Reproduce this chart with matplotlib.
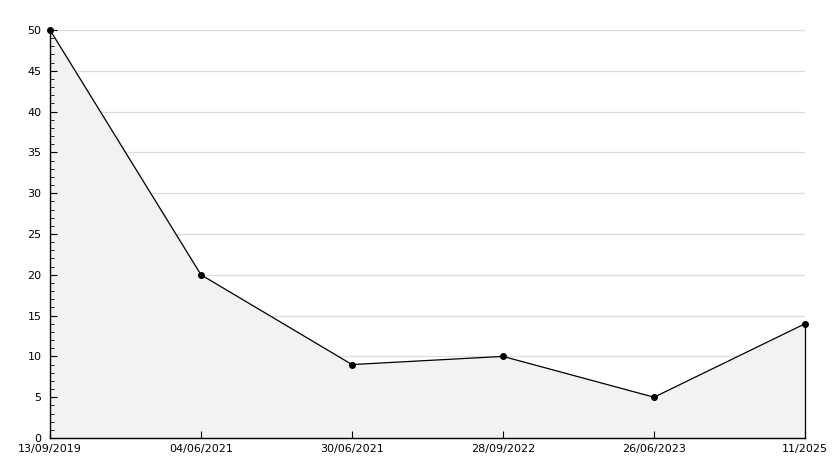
import matplotlib.pyplot as plt
from matplotlib.ticker import MultipleLocator

dates = ["13/09/2019", "04/06/2021", "30/06/2021", "28/09/2022", "26/06/2023", "11/2025"]
values = [50, 20, 9, 10, 5, 14]
grid_levels = [5, 10, 15, 20, 25, 30, 35, 40, 45, 50]

W, H = 834, 468
fig = plt.figure(figsize=(W / 100, H / 100), dpi=100)
ax = fig.add_axes([50 / W, (H - 438) / H, 755 / W, 408 / H])

xs = list(range(len(dates)))
# grid behind the filled area, ticks stay on top
for g in grid_levels:
    ax.axhline(g, color="#dddddd", lw=0.9, zorder=0)
ax.fill_between(xs, values, 0, color="#f2f2f2", zorder=1)
ax.plot(xs, values, color="black", lw=0.9, marker="o", markersize=4,
        zorder=4, clip_on=False)
ax.plot([xs[-1], xs[-1]], [0, values[-1]], color="black", lw=0.9,
        zorder=4, clip_on=False)

ax.set_xlim(0, len(dates) - 1)
ax.set_ylim(0, 50)
ax.set_xticks(xs)
ax.set_xticklabels(dates)
ax.yaxis.set_major_locator(MultipleLocator(5))
ax.yaxis.set_minor_locator(MultipleLocator(1))

for s in ["top", "right"]:
    ax.spines[s].set_visible(False)
for s in ["left", "bottom"]:
    ax.spines[s].set_linewidth(1.0)
    ax.spines[s].set_zorder(5)

ax.tick_params(axis="y", which="major", direction="in", length=5, labelsize=8, pad=6)
ax.tick_params(axis="y", which="minor", direction="in", length=3)
ax.tick_params(axis="x", direction="in", length=5, labelsize=8, pad=4)

fig.savefig("out.png", dpi=100, facecolor="white")
